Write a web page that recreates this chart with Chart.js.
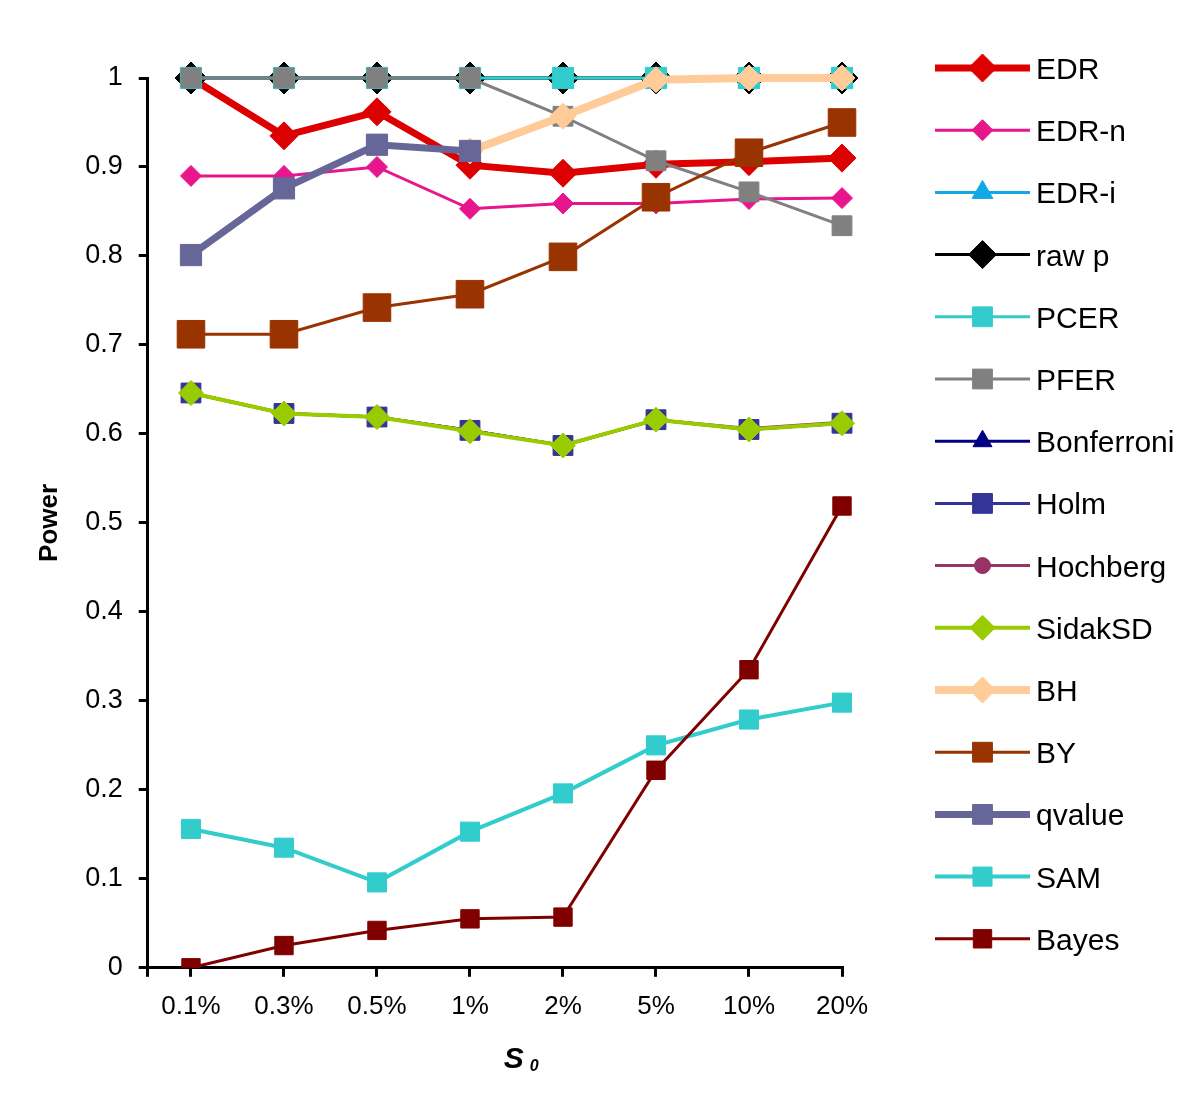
<!DOCTYPE html>
<html>
<head>
<meta charset="utf-8">
<script src="https://cdn.jsdelivr.net/npm/chart.js@4.4.1/dist/chart.umd.min.js"></script>
<style>
  html, body { margin: 0; padding: 0; background: #fff; }
</style>
</head>
<body>
<canvas id="power-chart" width="1200" height="1104"></canvas>
<script>
// s0 values on the x axis
const categories = ['0.1%', '0.3%', '0.5%', '1%', '2%', '5%', '10%', '20%'];

// power of each method
const edr        = [1.000, 0.935, 0.962, 0.902, 0.893, 0.903, 0.906, 0.910];
const edrN       = [0.890, 0.890, 0.900, 0.853, 0.859, 0.859, 0.864, 0.865];
const edrI       = [1, 1, 1, 1, 1, 1, 1, 1];
const rawP       = [1, 1, 1, 1, 1, 1, 1, 1];
const pcer       = [1, 1, 1, 1, 1, 1, 1, 1];
const pfer       = [1, 1, 1, 1, 0.957, 0.907, 0.872, 0.834];
const bonferroni = [0.646, 0.623, 0.619, 0.604, 0.587, 0.616, 0.605, 0.612];
const holm       = [0.646, 0.623, 0.619, 0.604, 0.587, 0.616, 0.605, 0.612];
const hochberg   = [0.646, 0.623, 0.619, 0.604, 0.587, 0.616, 0.606, 0.613];
const sidakSD    = [0.646, 0.623, 0.619, 0.603, 0.587, 0.616, 0.605, 0.612];
const bh         = [null, null, null, 0.918, 0.957, 0.998, 1.000, 1.000];
const by         = [0.712, 0.712, 0.742, 0.757, 0.799, 0.866, 0.916, 0.950];
const qvalue     = [0.801, 0.876, 0.925, 0.918, null, null, null, null];
const sam        = [0.156, 0.135, 0.096, 0.153, 0.196, 0.250, 0.279, 0.298];
const bayes      = [0.000, 0.025, 0.042, 0.055, 0.057, 0.222, 0.335, 0.519];

const yTicks = [0, 0.1, 0.2, 0.3, 0.4, 0.5, 0.6, 0.7, 0.8, 0.9, 1];

const FONT = '"Liberation Sans", Arial, sans-serif';

function series(label, values, color, style, radius, width, extra) {
  return Object.assign({
    label: label,
    data: values.map((v, i) => ({ x: i, y: v })),
    borderColor: color,
    backgroundColor: color,
    pointBackgroundColor: color,
    pointBorderColor: color,
    pointStyle: style,
    pointRadius: radius,
    pointHoverRadius: radius,
    pointBorderWidth: 1,
    borderWidth: width,
    tension: 0,
    clip: false
  }, extra || {});
}

const datasets = [
  series('EDR', edr, '#DD0000', 'rectRot', 14, 7),
  series('EDR-n', edrN, '#E8168C', 'rectRot', 10.5, 3),
  series('EDR-i', edrI, '#12A8E4', 'triangle', 12, 3),
  series('raw p', rawP, '#000000', 'rectRot', 16, 3),
  series('PCER', pcer, '#33CCCC', 'rect', 15, 3),
  series('PFER', pfer, '#808080', 'rect', 14, 3),
  series('Bonferroni', bonferroni, '#000080', 'triangle', 11, 3),
  series('Holm', holm, '#333399', 'rect', 14, 3),
  series('Hochberg', hochberg, '#993366', 'circle', 8, 3),
  series('SidakSD', sidakSD, '#99CC00', 'rectRot', 12.5, 4),
  series('BH', bh, '#FFCC99', 'rectRot', 13, 8),
  series('BY', by, '#993300', 'rect', 19.5, 3),
  series('qvalue', qvalue, '#666699', 'rect', 15, 7),
  series('SAM', sam, '#33CCCC', 'rect', 13.5, 4),
  series('Bayes', bayes, '#800000', 'rect', 13, 3, { clip: { left: 30, top: 30, right: 30, bottom: 0 } })
];
// later series sit on top, as in the original
datasets.forEach((d, i) => { d.order = datasets.length - i; });

// legend drawn to the right: line with marker, then the name
const sideLegend = {
  id: 'sideLegend',
  afterDraw(chart) {
    const { ctx, chartArea } = chart;
    const x0 = chartArea.right + 93;
    const x1 = x0 + 95;
    const xm = (x0 + x1) / 2;
    const top = chartArea.top - 10;
    const step = (chartArea.height - 19) / 14;
    chart.data.datasets.forEach((ds, i) => {
      const y = top + i * step;
      ctx.save();
      ctx.strokeStyle = ds.borderColor;
      ctx.lineWidth = ds.borderWidth;
      ctx.beginPath();
      ctx.moveTo(x0, y);
      ctx.lineTo(x1, y);
      ctx.stroke();
      ctx.fillStyle = ds.pointBackgroundColor;
      ctx.strokeStyle = ds.pointBorderColor;
      ctx.lineWidth = 1;
      Chart.helpers.drawPoint(ctx, {
        pointStyle: ds.pointStyle,
        radius: Math.min(ds.pointRadius, 14),
        rotation: 0,
        borderWidth: 1
      }, xm, y);
      ctx.fillStyle = '#000';
      ctx.font = '30px ' + FONT;
      ctx.textAlign = 'left';
      ctx.textBaseline = 'alphabetic';
      ctx.fillText(ds.label, x1 + 6, y + 11);
      ctx.restore();
    });
  }
};

// x axis title: bold italic S with subscript 0
const xTitle = {
  id: 'xTitle',
  afterDraw(chart) {
    const { ctx, chartArea } = chart;
    const cx = (chartArea.left + chartArea.right) / 2;
    const base = chartArea.bottom + 100;
    ctx.save();
    ctx.fillStyle = '#000';
    ctx.textAlign = 'left';
    ctx.textBaseline = 'alphabetic';
    ctx.font = 'italic bold 30px ' + FONT;
    ctx.fillText('S', cx + 9, base);
    ctx.font = 'italic bold 16px ' + FONT;
    ctx.fillText('0', cx + 35, base + 3);
    ctx.restore();
  }
};

new Chart(document.getElementById('power-chart'), {
  type: 'line',
  data: { datasets: datasets },
  plugins: [sideLegend, xTitle],
  options: {
    responsive: false,
    animation: false,
    events: [],
    layout: { padding: { left: 30, right: 358, top: 78, bottom: 68 } },
    plugins: {
      legend: { display: false },
      tooltip: { enabled: false }
    },
    scales: {
      x: {
        type: 'linear',
        min: -0.465,
        max: categories.length - 1,
        afterBuildTicks(scale) {
          scale.ticks = [-0.465].concat(categories.map((c, i) => i)).map(v => ({ value: v }));
        },
        ticks: {
          autoSkip: false,
          maxRotation: 0,
          padding: 14,
          color: '#000',
          font: { family: FONT, size: 26 },
          callback: (v) => (Number.isInteger(v) ? categories[v] : '')
        },
        grid: { drawOnChartArea: false, drawTicks: true, tickLength: 9, color: '#000', lineWidth: 3 },
        border: { color: '#000', width: 3 }
      },
      y: {
        min: 0,
        max: 1,
        afterBuildTicks(scale) {
          scale.ticks = yTicks.map(v => ({ value: v }));
        },
        ticks: {
          padding: 16,
          color: '#000',
          font: { family: FONT, size: 27 },
          callback: (v) => String(Number(v.toFixed(1)))
        },
        title: {
          display: true,
          text: 'Power',
          color: '#000',
          font: { family: FONT, size: 26, weight: 'bold' },
          padding: { top: 4, bottom: 4 }
        },
        grid: { drawOnChartArea: false, drawTicks: true, tickLength: 9, color: '#000', lineWidth: 3 },
        border: { color: '#000', width: 3 }
      }
    }
  }
});
</script>
</body>
</html>
